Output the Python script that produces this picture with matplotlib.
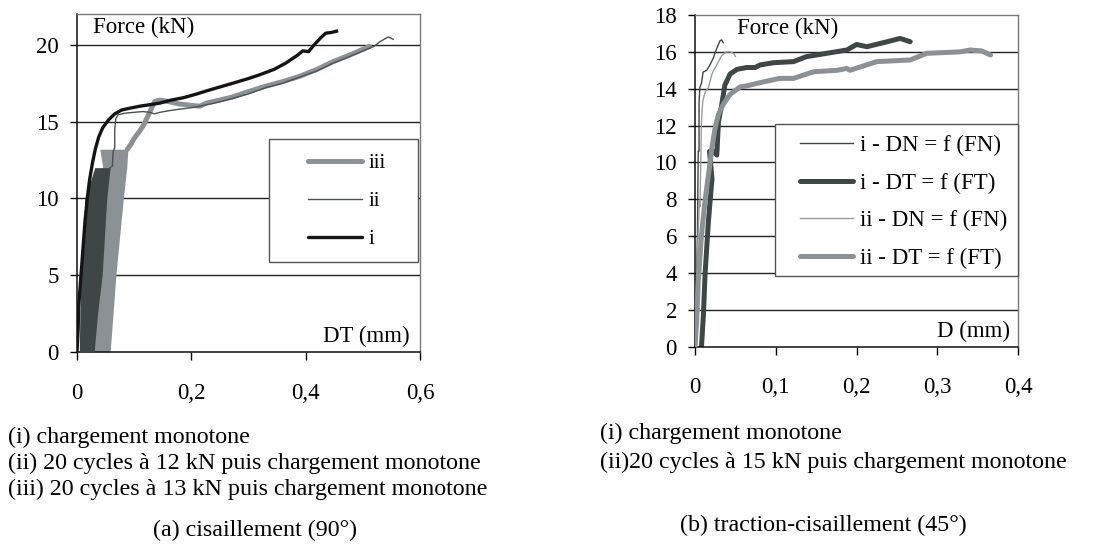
import matplotlib
matplotlib.use("Agg")
import matplotlib.pyplot as plt
from matplotlib.patches import Rectangle
from matplotlib.lines import Line2D

plt.rcParams['font.family'] = ['Liberation Serif', 'DejaVu Serif']

# ---------------- data: (a) cisaillement ----------------
a_xticks = [0, 0.2, 0.4, 0.6]
a_xticklabels = ['0', '0,2', '0,4', '0,6']
a_yticks = [0, 5, 10, 15, 20]
a_yticklabels = ['0', '5', '10', '15', '20']

# cycling bands (many superposed cycles)
band_ii_y = [0, 2.5, 5, 10, 12]
band_ii_xl = [0.004, 0.005, 0.007, 0.014, 0.031]
band_ii_xr = [0.030, 0.036, 0.044, 0.052, 0.058]
band_iii_y = [0, 5, 10, 12, 13.2]
band_iii_xl = [0.020, 0.030, 0.040, 0.045, 0.040]
band_iii_xr = [0.058, 0.068, 0.081, 0.087, 0.089]

i_x = [0, 0.002, 0.003, 0.005, 0.008, 0.011, 0.014, 0.018, 0.022, 0.027, 0.032,
       0.038, 0.045, 0.055, 0.066, 0.078, 0.09, 0.11, 0.128, 0.145, 0.165, 0.186,
       0.21, 0.227, 0.25, 0.273, 0.30, 0.32, 0.345, 0.365, 0.385, 0.395, 0.405,
       0.415, 0.425, 0.435, 0.445, 0.454]
i_y = [0, 1.5, 3, 4, 5.5, 7, 8.5, 10, 11.2, 12.3, 13.2,
       14.0, 14.6, 15.1, 15.5, 15.75, 15.85, 16.0, 16.1, 16.2, 16.4, 16.55,
       16.8, 17.0, 17.25, 17.5, 17.8, 18.05, 18.4, 18.8, 19.3, 19.6, 19.55,
       20.0, 20.4, 20.75, 20.8, 20.88]

ii_x = [0.058, 0.062, 0.063, 0.066, 0.066, 0.068, 0.072, 0.085, 0.10, 0.115, 0.128,
        0.135, 0.145, 0.16, 0.178, 0.2, 0.215, 0.24, 0.272, 0.30, 0.33, 0.36, 0.39,
        0.42, 0.448, 0.475, 0.507, 0.52, 0.53, 0.544, 0.548, 0.553]
ii_y = [12.0, 12.1, 13.0, 13.3, 14.5, 15.2, 15.45, 15.55, 15.6, 15.65, 15.6,
        15.5, 15.6, 15.7, 15.8, 15.9, 16.0, 16.2, 16.5, 16.8, 17.2, 17.5, 17.9,
        18.3, 18.8, 19.2, 19.7, 19.9, 20.2, 20.5, 20.45, 20.35]

iii_x = [0.088, 0.094, 0.10, 0.110, 0.117, 0.122, 0.127, 0.131, 0.136, 0.145, 0.16,
         0.178, 0.2, 0.215, 0.226, 0.25, 0.272, 0.30, 0.33, 0.36, 0.39, 0.42, 0.448,
         0.475, 0.50, 0.512]
iii_y = [13.2, 13.5, 13.9, 14.4, 14.8, 15.2, 15.6, 15.9, 16.3, 16.4, 16.3,
         16.15, 16.05, 16.0, 16.2, 16.4, 16.6, 16.95, 17.3, 17.6, 17.95, 18.4, 18.9,
         19.3, 19.7, 19.9]

a_labels = ['iii', 'ii', 'i']

# ---------------- data: (b) traction-cisaillement ----------------
b_xticks = [0, 0.1, 0.2, 0.3, 0.4]
b_xticklabels = ['0', '0,1', '0,2', '0,3', '0,4']
b_yticks = [0, 2, 4, 6, 8, 10, 12, 14, 16, 18]
b_yticklabels = ['0', '2', '4', '6', '8', '10', '12', '14', '16', '18']

iDN_x = [0, 0.001, 0.002, 0.003, 0.004, 0.005, 0.005, 0.006, 0.008, 0.010, 0.0145,
         0.0186, 0.023, 0.027, 0.031, 0.033, 0.035]
iDN_y = [0, 2, 4, 6, 10.6, 10.6, 13.2, 14.05, 14.3, 14.9, 15.0,
         15.3, 15.7, 16.2, 16.6, 16.65, 16.5]

iDT_x = [0.008, 0.0104, 0.0124, 0.0166, 0.021, 0.018, 0.0228, 0.027, 0.029, 0.033,
         0.037, 0.0435, 0.052, 0.064, 0.0745, 0.0806, 0.097, 0.122, 0.138, 0.163,
         0.188, 0.2, 0.213, 0.238, 0.254, 0.2665]
iDT_y = [0, 1.7, 3.9, 6.8, 9.1, 10.6, 10.6, 10.4, 12.2, 13.1,
         14.2, 14.8, 15.05, 15.15, 15.15, 15.29, 15.41, 15.47, 15.74, 15.92,
         16.1, 16.4, 16.28, 16.55, 16.73, 16.55]

iiDN_x = [0, 0.001, 0.003, 0.0054, 0.0062, 0.008, 0.0095, 0.0124, 0.0166, 0.021,
          0.027, 0.033, 0.039, 0.044, 0.048, 0.050]
iiDN_y = [0, 2, 5, 7.9, 7.6, 12.2, 13.3, 13.8, 14.05, 14.8,
          15.3, 15.8, 16.0, 16.0, 15.9, 15.75]

iiDT_x = [0, 0.002, 0.004, 0.008, 0.0124, 0.0166, 0.021, 0.025, 0.029, 0.035, 0.0435,
          0.056, 0.064, 0.0806, 0.105, 0.122, 0.147, 0.176, 0.188, 0.192, 0.225,
          0.2665, 0.287, 0.328, 0.341, 0.355, 0.366]
iiDT_y = [0, 1.3, 3.5, 6.05, 7.9, 9.3, 10.8, 11.9, 12.6, 13.15, 13.7,
          14.1, 14.15, 14.33, 14.56, 14.56, 14.92, 15.0, 15.1, 15.0, 15.47,
          15.56, 15.92, 16.0, 16.1, 16.05, 15.83]

b_labels = ['i - DN = f (FN)', 'i - DT = f (FT)', 'ii - DN = f (FN)', 'ii - DT = f (FT)']

captions_a = ['(i) chargement monotone',
              '(ii) 20 cycles à 12 kN puis chargement monotone',
              '(iii) 20 cycles à 13 kN puis chargement monotone']
title_a = '(a) cisaillement (90°)'
captions_b = ['(i) chargement monotone',
              '(ii)20 cycles à 15 kN puis chargement monotone']
title_b = '(b) traction-cisaillement (45°)'

# ---------------- styles ----------------
C_BLACK = '#141414'
C_DARK = '#3e4646'
C_LIGHT = '#8c9196'
C_THIN_LIGHT = '#9a9c9e'
FS = 16.5
FS_CAP = 17.3

W, H = 1100, 549
fig = plt.figure(figsize=(W / 100, H / 100), dpi=100)


def style_axes(ax, xticks, xlabels, yticks, ylabels, xlim, ylim):
    ax.set_xlim(*xlim)
    ax.set_ylim(*ylim)
    ax.set_xticks(xticks)
    ax.set_xticklabels(xlabels)
    ax.set_yticks(yticks)
    ax.set_yticklabels(ylabels)
    for yt in yticks[1:]:
        if yt < ylim[1]:
            ax.axhline(yt, color='#222222', lw=1.0, zorder=0.5)
    ax.tick_params(axis='x', direction='out', length=6, width=1, pad=16, labelsize=FS)
    ax.tick_params(axis='y', direction='out', length=5, width=1, pad=8, labelsize=FS)
    for s in ['left', 'bottom']:
        ax.spines[s].set_color('#111111')
        ax.spines[s].set_linewidth(1.1)
    for s in ['top', 'right']:
        ax.spines[s].set_color('#777777')
        ax.spines[s].set_linewidth(1.0)


# ---------- (a) ----------
axA = fig.add_axes([77 / W, 1 - 352 / H, 343 / W, 338 / H])
style_axes(axA, a_xticks, a_xticklabels, a_yticks, a_yticklabels, (0, 0.6), (0, 22))

axA.fill_betweenx(band_iii_y, band_iii_xl, band_iii_xr, color=C_LIGHT, lw=0, zorder=2)
axA.plot(iii_x, iii_y, color=C_LIGHT, lw=3.6, solid_capstyle='round', zorder=2)
axA.fill_betweenx(band_ii_y, band_ii_xl, band_ii_xr, color=C_DARK, lw=0, zorder=3)
axA.plot(ii_x, ii_y, color='#4a5252', lw=1.0, zorder=3)
axA.plot(i_x, i_y, color=C_BLACK, lw=2.4, zorder=4)

axA.add_patch(Rectangle((0.561, 0.267), 0.434, 0.362, transform=axA.transAxes,
                        facecolor='white', edgecolor='#555555', lw=1.0, zorder=5))
hA = [Line2D([], [], color=C_LIGHT, lw=3.6, solid_capstyle='round'),
      Line2D([], [], color='#4a5252', lw=1.0),
      Line2D([], [], color=C_BLACK, lw=2.4, solid_capstyle='round')]
legA = axA.legend(hA, a_labels, loc='center left', bbox_to_anchor=(0.673, 0.445),
                  frameon=False, fontsize=15, handlelength=2.6, handletextpad=0.3,
                  labelspacing=0.88, borderpad=0, borderaxespad=0)
legA.set_zorder(6)

axA.text(0.047, 0.959, 'Force (kN)', transform=axA.transAxes, fontsize=FS,
         ha='left', va='center', zorder=6)
axA.text(0.971, 0.047, 'DT (mm)', transform=axA.transAxes, fontsize=FS,
         ha='right', va='center', zorder=6)

# ---------- (b) ----------
axB = fig.add_axes([695 / W, 1 - 346.7 / H, 323 / W, 331.7 / H])
style_axes(axB, b_xticks, b_xticklabels, b_yticks, b_yticklabels, (0, 0.4), (0, 18))

axB.plot(iDN_x, iDN_y, color=C_DARK, lw=1.0, zorder=2)
axB.plot(iDT_x, iDT_y, color=C_DARK, lw=3.6, solid_capstyle='round', zorder=2)
axB.plot(iiDN_x, iiDN_y, color=C_THIN_LIGHT, lw=1.0, zorder=3)
axB.plot(iiDT_x, iiDT_y, color=C_LIGHT, lw=3.6, solid_capstyle='round', zorder=3)

axB.add_patch(Rectangle((0.248, 0.213), 0.752, 0.458, transform=axB.transAxes,
                        facecolor='white', edgecolor='#555555', lw=1.0, zorder=5,
                        clip_on=False))
hB = [Line2D([], [], color=C_DARK, lw=1.0),
      Line2D([], [], color=C_DARK, lw=3.6, solid_capstyle='round'),
      Line2D([], [], color=C_THIN_LIGHT, lw=1.0),
      Line2D([], [], color=C_LIGHT, lw=3.6, solid_capstyle='round')]
legB = axB.legend(hB, b_labels, loc='center left', bbox_to_anchor=(0.325, 0.436),
                  frameon=False, fontsize=FS, handlelength=2.3, handletextpad=0.3,
                  labelspacing=0.72, borderpad=0, borderaxespad=0)
legB.set_zorder(6)

axB.text(0.129, 0.96, 'Force (kN)', transform=axB.transAxes, fontsize=FS,
         ha='left', va='center', zorder=6)
axB.text(0.976, 0.045, 'D (mm)', transform=axB.transAxes, fontsize=FS,
         ha='right', va='center', zorder=6)

# ---------- captions ----------
for txt, yc in zip(captions_a, [437, 463, 489]):
    fig.text(8 / W, 1 - yc / H, txt, fontsize=FS_CAP, ha='left', va='center')
fig.text(255 / W, 1 - 530 / H, title_a, fontsize=FS_CAP, ha='center', va='center')
for txt, yc in zip(captions_b, [433, 462]):
    fig.text(600 / W, 1 - yc / H, txt, fontsize=FS_CAP, ha='left', va='center')
fig.text(823 / W, 1 - 525 / H, title_b, fontsize=FS_CAP, ha='center', va='center')

fig.savefig('out.png', dpi=100)
